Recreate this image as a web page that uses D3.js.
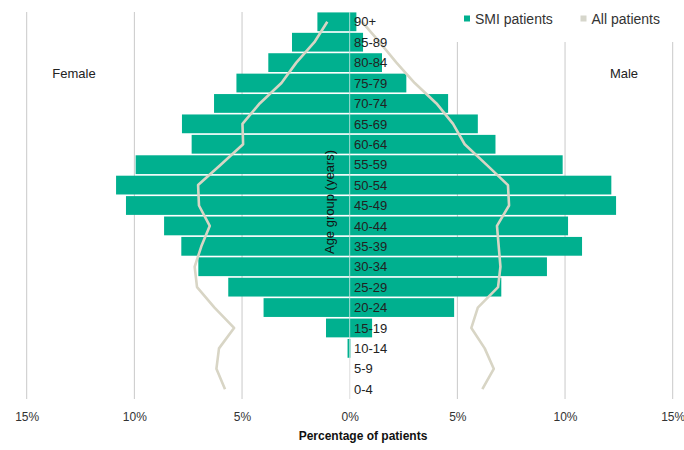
<!DOCTYPE html>
<html>
<head>
<meta charset="utf-8">
<script src="https://cdn.jsdelivr.net/npm/d3@7/dist/d3.min.js"></script>
<style>
  html, body { margin: 0; padding: 0; background: #fff; }
  svg { display: block; font-family: "Liberation Sans", Arial, sans-serif; }
</style>
</head>
<body>
<svg id="chart" width="684" height="450"></svg>
<script>
// ---- data ----
const ageGroups = ["0-4","5-9","10-14","15-19","20-24","25-29","30-34","35-39","40-44","45-49","50-54","55-59","60-64","65-69","70-74","75-79","80-84","85-89","90+"];
const smiFemale = [0, 0, 0.1, 1.1, 4.0, 5.64, 7.03, 7.82, 8.62, 10.39, 10.85, 9.94, 7.34, 7.79, 6.3, 5.26, 3.78, 2.68, 1.5];
const smiMale   = [0, 0, 0.03, 1.04, 4.85, 7.04, 9.16, 10.79, 10.14, 12.37, 12.15, 9.89, 6.77, 5.95, 4.57, 2.63, 1.5, 0.62, 0.31];
const allFemale = [5.79, 6.19, 6.07, 5.37, 6.28, 7.09, 7.2, 6.89, 6.5, 7.0, 7.04, 5.99, 4.95, 4.98, 4.18, 3.17, 2.48, 1.64, 1.04];
const allMale   = [6.16, 6.69, 6.27, 5.65, 5.95, 6.89, 7.0, 6.92, 6.84, 7.4, 7.35, 6.35, 5.34, 4.8, 4.03, 3.02, 2.17, 1.39, 0.57];
const xTicks = [-15, -10, -5, 0, 5, 10, 15];
const seriesNames = ["SMI patients", "All patients"];

const teal = "#00b08f";
const beige = "#d8d5c5";

const svg = d3.select("#chart");

const x = d3.scaleLinear().domain([-15, 15]).range([26.7, 672.7]);
const y = d3.scaleBand().domain(ageGroups.slice().reverse()).range([12, 399]).paddingInner(0.08).paddingOuter(0.02);

// gridlines
svg.append("g").selectAll("line").data(xTicks).join("line")
  .attr("x1", d => x(d)).attr("x2", d => x(d))
  .attr("y1", 12).attr("y2", 399)
  .attr("stroke", "#c9c9c9").attr("stroke-width", 1);

// legend background (covers gridlines)
svg.append("rect").attr("x", 452).attr("y", 0).attr("width", 232).attr("height", 42).attr("fill", "#fff");

// bars
const rows = ageGroups.map((g, i) => ({ g, f: smiFemale[i], m: smiMale[i], af: allFemale[i], am: allMale[i] }));
const bars = svg.append("g");
bars.selectAll("rect.f").data(rows).join("rect").attr("class", "f")
  .attr("x", d => x(-d.f)).attr("width", d => x(0) - x(-d.f))
  .attr("y", d => y(d.g)).attr("height", y.bandwidth())
  .attr("fill", teal);
bars.selectAll("rect.m").data(rows).join("rect").attr("class", "m")
  .attr("x", x(0)).attr("width", d => x(d.m) - x(0))
  .attr("y", d => y(d.g)).attr("height", y.bandwidth())
  .attr("fill", teal);

// center separator line over bars
svg.append("line").attr("x1", x(0)).attr("x2", x(0)).attr("y1", 12).attr("y2", 399)
  .attr("stroke", "#ffffff").attr("stroke-opacity", 0.55).attr("stroke-width", 1);

// all patients lines
const lineF = d3.line().x(d => x(-d.af)).y(d => y(d.g) + y.bandwidth() / 2);
const lineM = d3.line().x(d => x(d.am)).y(d => y(d.g) + y.bandwidth() / 2);
svg.append("path").datum(rows).attr("d", lineF).attr("fill", "none").attr("stroke", beige).attr("stroke-width", 2.6).attr("stroke-linejoin", "round");
svg.append("path").datum(rows).attr("d", lineM).attr("fill", "none").attr("stroke", beige).attr("stroke-width", 2.6).attr("stroke-linejoin", "round");

// age labels
svg.append("g").selectAll("text").data(ageGroups).join("text")
  .attr("x", 354).attr("y", d => y(d) + y.bandwidth() / 2 + 4.7)
  .attr("font-size", 13).attr("fill", "#222").text(d => d);

// y axis title
svg.append("text").attr("transform", "translate(334,202) rotate(-90)")
  .attr("text-anchor", "middle").attr("font-size", 13).attr("fill", "#111")
  .text("Age group (years)");

// x axis (tick labels only)
const xAxis = d3.axisBottom(x).tickValues(xTicks).tickSize(0).tickPadding(0)
  .tickFormat(d => Math.abs(d) + "%");
const gx = svg.append("g").attr("transform", "translate(0,412)").call(xAxis);
gx.select(".domain").remove();
gx.selectAll("text").attr("font-size", 12).attr("fill", "#333").attr("font-family", "Liberation Sans, Arial, sans-serif");

svg.append("text").attr("x", 363).attr("y", 440).attr("text-anchor", "middle")
  .attr("font-size", 12).attr("font-weight", "bold").attr("fill", "#111").text("Percentage of patients");

// side labels
svg.append("text").attr("x", 74).attr("y", 77.5).attr("text-anchor", "middle").attr("font-size", 13).attr("fill", "#222").text("Female");
svg.append("text").attr("x", 624).attr("y", 77.5).attr("text-anchor", "middle").attr("font-size", 13).attr("fill", "#222").text("Male");

// legend
const legend = svg.append("g");
const legItems = [{ name: seriesNames[0], c: teal, x: 464 }, { name: seriesNames[1], c: "#d6d6cb", x: 580.5 }];
legend.selectAll("rect").data(legItems).join("rect")
  .attr("x", d => d.x).attr("y", 15.5).attr("width", 6).attr("height", 6).attr("fill", d => d.c);
legend.selectAll("text").data(legItems).join("text")
  .attr("x", d => d.x + 11).attr("y", 23.5).attr("font-size", 14).attr("fill", "#333").text(d => d.name);
</script>
</body>
</html>
